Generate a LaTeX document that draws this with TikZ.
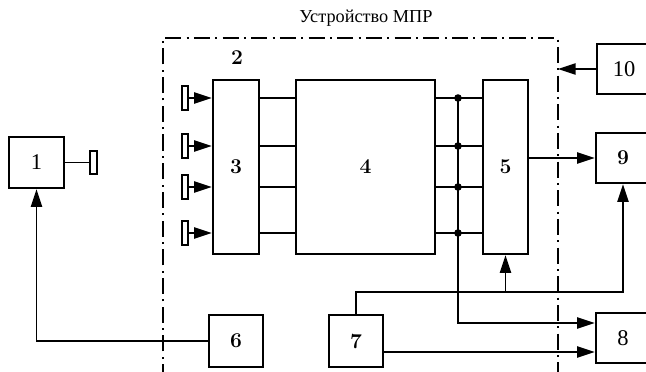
\documentclass[tikz,border=0pt]{standalone}
\usepackage{fontspec}
\newfontfamily\titlefont{Liberation Serif}
\usetikzlibrary{arrows.meta}
\begin{document}
\begin{tikzpicture}[x=0.025cm,y=-0.025cm,
  blk/.style={draw, rectangle, line width=1.8pt, inner sep=0pt, font=\fontsize{15}{17}\selectfont\bfseries},
  lite/.style={font=\titlefont\fontsize{16}{18}\selectfont},
  stub/.style={draw, rectangle, line width=1.3pt, inner sep=0pt, minimum width=0.15cm, minimum height=0.6cm},
  arr/.style={line width=1pt, -{Triangle[length=12.5pt,width=8pt]}},
  ln/.style={line width=1pt},
  frame/.style={line width=2pt, dash pattern=on 11.4pt off 3.8pt on 1.4pt off 3.8pt}]
\useasboundingbox (0,0) rectangle (646,371);
\node[font=\titlefont\fontsize{13}{15}\selectfont] (title) at (366,18) {Устройство МПР};
\node[font=\fontsize{15}{17}\selectfont\bfseries] (lbl2) at (237,58) {2};
\node[blk, lite, minimum width=1.375cm, minimum height=1.275cm] (b1) at (36.5,162.5) {1};
\node[stub, minimum width=0.175cm, minimum height=0.575cm] (s1) at (93.5,162.5) {};
\node[blk, minimum width=1.15cm, minimum height=4.35cm] (b3) at (236,167) {3};
\node[blk, minimum width=3.475cm, minimum height=4.35cm] (b4) at (365.5,167) {4};
\node[blk, minimum width=1.125cm, minimum height=4.35cm] (b5) at (505.5,167) {5};
\node[blk, minimum width=1.35cm, minimum height=1.3cm] (b6) at (236,341) {6};
\node[blk, minimum width=1.35cm, minimum height=1.3cm] (b7) at (356,341) {7};
\node[blk, lite, minimum width=1.35cm, minimum height=1.25cm] (b8) at (623,338) {8};
\node[blk, minimum width=1.35cm, minimum height=1.25cm] (b9) at (623,158) {9};
\node[blk, lite, minimum width=1.35cm, minimum height=1.25cm] (b10) at (624,69) {10};
\node[stub] (in1) at (185,98) {};
\node[stub] (in2) at (185,146) {};
\node[stub] (in3) at (185,187) {};
\node[stub] (in4) at (185,233) {};
% frame of the device
\draw[frame] (163,380) -- (163,38) -- (558,38) -- (558,380);
\coordinate (fr) at (558,71);
\coordinate (bus) at (458,98);
\coordinate (t7) at (356,292);
% inputs and buses
\foreach \k/\y in {1/98,2/146,3/187,4/233} {
  \draw[arr] (in\k.east) -- (b3.west |- 0,\y);
  \draw[ln] (b3.east |- 0,\y) -- (b4.west |- 0,\y);
  \draw[ln] (b4.east |- 0,\y) -- (b5.west |- 0,\y);
  \fill (458,\y) circle (3.8);
}
\draw[ln] (b1.east) -- (s1.west);
\draw[arr] (bus) |- (b8.west |- 0,323);
\draw[arr] (b5.east |- b9.west) -- (b9.west);
\draw[arr] (b10.west) -- (b10.west -| fr);
\draw[arr] (b7.north) |- (b9.south |- t7) -- (b9.south);
\draw[arr] (b5.south |- t7) -- (b5.south);
\draw[arr] (b7.east |- 0,352) -- (b8.west |- 0,352);
\draw[arr] (b6.west) -| (b1.south);
\end{tikzpicture}
\end{document}
